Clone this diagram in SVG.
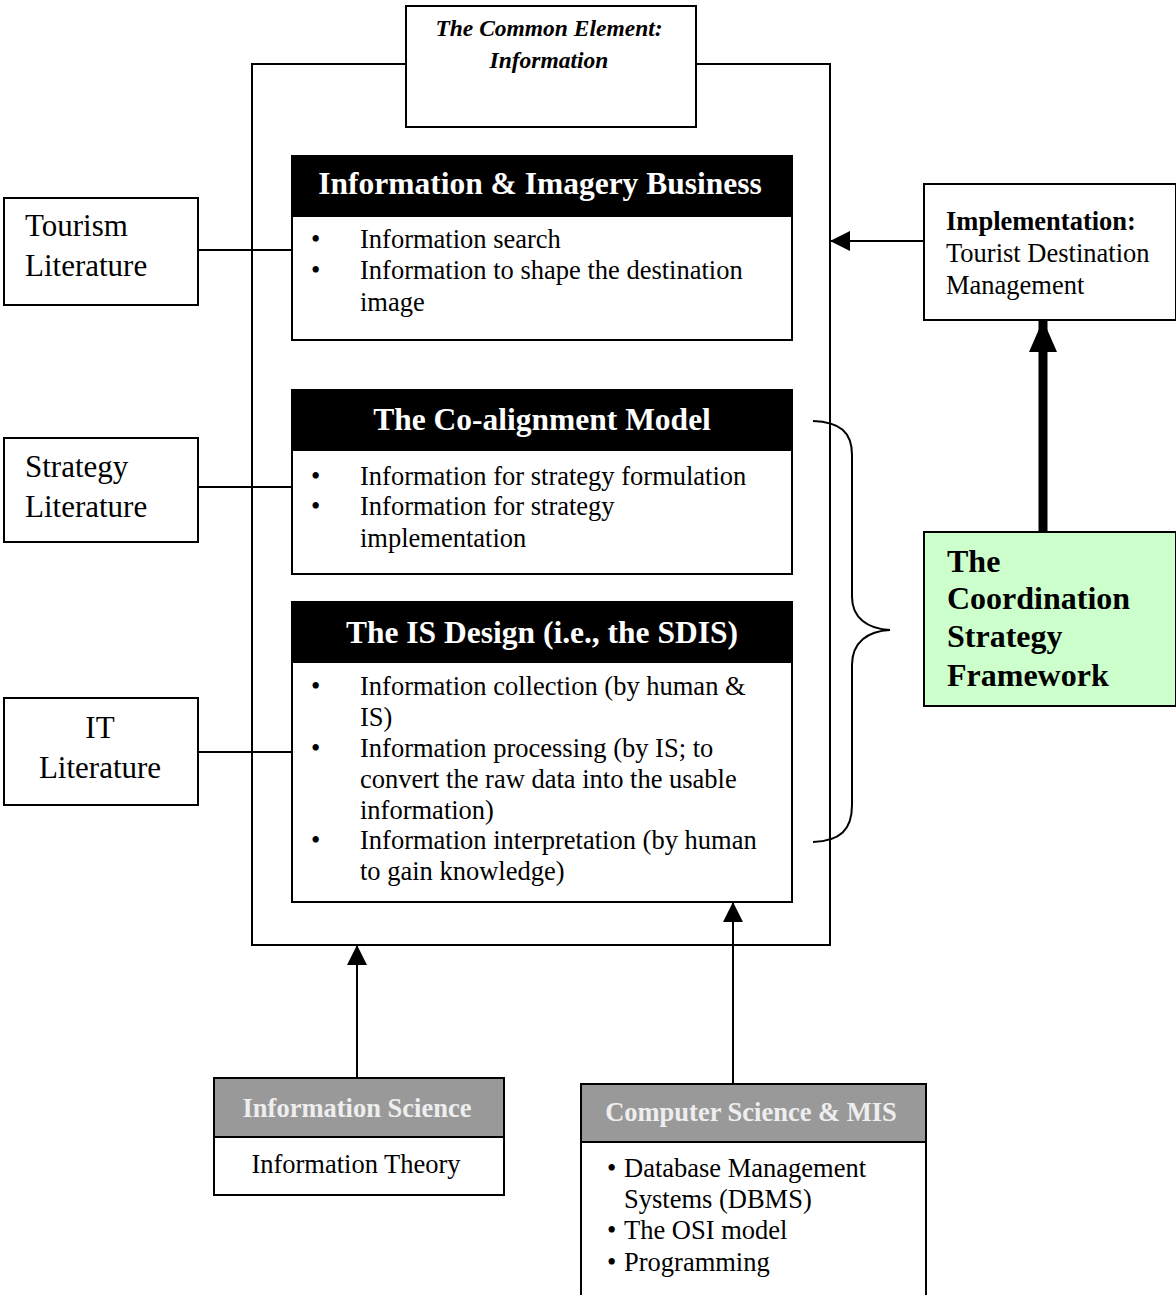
<svg xmlns="http://www.w3.org/2000/svg" width="1176" height="1295" viewBox="0 0 1176 1295">
  <defs>
    <style>
      .box { fill: #ffffff; stroke: #000000; stroke-width: 2; }
      .hdr { fill: #000000; stroke: #000000; stroke-width: 2; }
      .ghdr { fill: #999999; stroke: #000000; stroke-width: 2; }
      .green { fill: #ccffcc; stroke: #000000; stroke-width: 2; }
      .ln { fill: none; stroke: #000000; stroke-width: 2; }
      text { font-family: "Liberation Serif", "Times New Roman", serif; fill: #000000; }
      .t31 { font-size: 31px; }
      .body { font-size: 26.5px; }
      .htxt { font-size: 31.5px; font-weight: bold; fill: #ffffff; }
      .gtxt { font-size: 26.5px; font-weight: bold; fill: #eeeeee; }
      .bi { font-size: 23.5px; font-weight: bold; font-style: italic; }
      .big { font-size: 32px; font-weight: bold; }
    </style>
    <marker id="arr" viewBox="0 0 20 20" refX="20" refY="10" markerWidth="20" markerHeight="20" markerUnits="userSpaceOnUse" orient="auto">
      <path d="M0,0 L20,10 L0,20 Z" fill="#000000"/>
    </marker>
    <marker id="arrBig" viewBox="0 0 32 28" refX="32" refY="14" markerWidth="32" markerHeight="28" markerUnits="userSpaceOnUse" orient="auto">
      <path d="M0,0 L32,14 L0,28 Z" fill="#000000"/>
    </marker>
  </defs>

  <!-- outer frame holding the three information layers -->
  <g id="frame">
    <rect class="box" x="252" y="64" width="578" height="881"/>
  </g>

  <!-- connectors -->
  <g id="connectors">
    <line class="ln" x1="197" y1="250" x2="292" y2="250"/>
    <line class="ln" x1="197" y1="487" x2="292" y2="487"/>
    <line class="ln" x1="197" y1="752" x2="292" y2="752"/>
    <line class="ln" x1="924" y1="241" x2="830" y2="241" marker-end="url(#arr)"/>
    <line x1="1043" y1="532" x2="1043" y2="320" stroke="#000000" stroke-width="9" marker-end="url(#arrBig)"/>
    <line class="ln" x1="357" y1="1078" x2="357" y2="945" marker-end="url(#arr)"/>
    <line class="ln" x1="733" y1="1084" x2="733" y2="902" marker-end="url(#arr)"/>
    <path class="ln" stroke-width="1.6" d="M813,421 C840,422 852,432 852,455 L852,597 C852,618 868,629 890,630 C868,631 852,642 852,665 L852,805 C852,830 840,841 813,842"/>
  </g>

  <g id="common-element">
    <rect class="box" x="406" y="6" width="290" height="121"/>
    <text class="bi" x="549" y="36" text-anchor="middle">The Common Element:</text>
    <text class="bi" x="549" y="68" text-anchor="middle">Information</text>
  </g>

  <g id="imagery-business">
    <rect class="box" x="292" y="156" width="500" height="184"/>
    <rect class="hdr" x="292" y="156" width="500" height="60"/>
    <text class="htxt" x="540" y="194" text-anchor="middle">Information &amp; Imagery Business</text>
    <g class="body">
      <text x="311" y="248">•</text><text x="360" y="248">Information search</text>
      <text x="311" y="279">•</text><text x="360" y="279">Information to shape the destination</text>
      <text x="360" y="311">image</text>
    </g>
  </g>

  <g id="co-alignment">
    <rect class="box" x="292" y="390" width="500" height="184"/>
    <rect class="hdr" x="292" y="390" width="500" height="60"/>
    <text class="htxt" x="542" y="430" text-anchor="middle">The Co-alignment Model</text>
    <g class="body">
      <text x="311" y="485">•</text><text x="360" y="485">Information for strategy formulation</text>
      <text x="311" y="515">•</text><text x="360" y="515">Information for strategy</text>
      <text x="360" y="547">implementation</text>
    </g>
  </g>

  <g id="is-design">
    <rect class="box" x="292" y="602" width="500" height="300"/>
    <rect class="hdr" x="292" y="602" width="500" height="60"/>
    <text class="htxt" x="542" y="643" text-anchor="middle">The IS Design (i.e., the SDIS)</text>
    <g class="body">
      <text x="311" y="695">•</text><text x="360" y="695">Information collection (by human &amp;</text>
      <text x="360" y="726">IS)</text>
      <text x="311" y="757">•</text><text x="360" y="757">Information processing (by IS; to</text>
      <text x="360" y="788">convert the raw data into the usable</text>
      <text x="360" y="819">information)</text>
      <text x="311" y="849">•</text><text x="360" y="849">Information interpretation (by human</text>
      <text x="360" y="880">to gain knowledge)</text>
    </g>
  </g>

  <g id="tourism-literature">
    <rect class="box" x="4" y="198" width="194" height="107"/>
    <text class="t31" x="25" y="236">Tourism</text>
    <text class="t31" x="25" y="276">Literature</text>
  </g>

  <g id="strategy-literature">
    <rect class="box" x="4" y="438" width="194" height="104"/>
    <text class="t31" x="25" y="477">Strategy</text>
    <text class="t31" x="25" y="517">Literature</text>
  </g>

  <g id="it-literature">
    <rect class="box" x="4" y="698" width="194" height="107"/>
    <text class="t31" x="100" y="738" text-anchor="middle">IT</text>
    <text class="t31" x="100" y="778" text-anchor="middle">Literature</text>
  </g>

  <g id="implementation">
    <rect class="box" x="924" y="184" width="252" height="136"/>
    <text class="body" x="946" y="230" font-weight="bold">Implementation:</text>
    <text class="body" x="946" y="262">Tourist Destination</text>
    <text class="body" x="946" y="294">Management</text>
  </g>

  <g id="coordination-framework">
    <rect class="green" x="924" y="532" width="252" height="174"/>
    <text class="big" x="947" y="572">The</text>
    <text class="big" x="947" y="609">Coordination</text>
    <text class="big" x="947" y="647">Strategy</text>
    <text class="big" x="947" y="686">Framework</text>
  </g>

  <g id="information-science">
    <rect class="box" x="214" y="1078" width="290" height="117"/>
    <rect class="ghdr" x="214" y="1078" width="290" height="59"/>
    <text class="gtxt" x="357" y="1117" text-anchor="middle">Information Science</text>
    <text class="body" x="356" y="1173" text-anchor="middle">Information Theory</text>
  </g>

  <g id="computer-science">
    <rect class="box" x="581" y="1084" width="345" height="240"/>
    <rect class="ghdr" x="581" y="1084" width="345" height="58"/>
    <text class="gtxt" x="751" y="1121" text-anchor="middle">Computer Science &amp; MIS</text>
    <g class="body">
      <text x="607" y="1177">•</text><text x="624" y="1177">Database Management</text>
      <text x="624" y="1208">Systems (DBMS)</text>
      <text x="607" y="1239">•</text><text x="624" y="1239">The OSI model</text>
      <text x="607" y="1271">•</text><text x="624" y="1271">Programming</text>
    </g>
  </g>
</svg>
